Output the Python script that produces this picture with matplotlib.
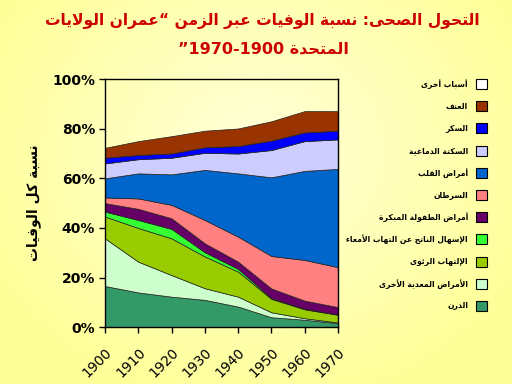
import re
import numpy as np
import matplotlib
matplotlib.use("Agg")
import matplotlib.pyplot as plt
from matplotlib.patches import Rectangle

# --- minimal Arabic shaping (presentation forms) + visual order ---
_BASE = [('ء', 0xFE80, 1), ('آ', 0xFE81, 2), ('أ', 0xFE83, 2), ('ؤ', 0xFE85, 2),
         ('إ', 0xFE87, 2), ('ئ', 0xFE89, 4), ('ا', 0xFE8D, 2), ('ب', 0xFE8F, 4),
         ('ة', 0xFE93, 2), ('ت', 0xFE95, 4), ('ث', 0xFE99, 4), ('ج', 0xFE9D, 4),
         ('ح', 0xFEA1, 4), ('خ', 0xFEA5, 4), ('د', 0xFEA9, 2), ('ذ', 0xFEAB, 2),
         ('ر', 0xFEAD, 2), ('ز', 0xFEAF, 2), ('س', 0xFEB1, 4), ('ش', 0xFEB5, 4),
         ('ص', 0xFEB9, 4), ('ض', 0xFEBD, 4), ('ط', 0xFEC1, 4), ('ظ', 0xFEC5, 4),
         ('ع', 0xFEC9, 4), ('غ', 0xFECD, 4), ('ف', 0xFED1, 4), ('ق', 0xFED5, 4),
         ('ك', 0xFED9, 4), ('ل', 0xFEDD, 4), ('م', 0xFEE1, 4), ('ن', 0xFEE5, 4),
         ('ه', 0xFEE9, 4), ('و', 0xFEED, 2), ('ى', 0xFEEF, 2), ('ي', 0xFEF1, 4)]
FORMS = {c: (start, n) for c, start, n in _BASE}
LAMALEF = {'آ': 0xFEF5, 'أ': 0xFEF7, 'إ': 0xFEF9, 'ا': 0xFEFB}


def ar(text):
    ch = list(text)
    out = []
    both = lambda c: c in FORMS and FORMS[c][1] == 4
    joinable = lambda c: c in FORMS and FORMS[c][1] >= 2
    i = 0
    while i < len(ch):
        c = ch[i]
        cprev = i > 0 and both(ch[i - 1]) and joinable(c)
        if c == 'ل' and i + 1 < len(ch) and ch[i + 1] in LAMALEF:
            out.append(chr(LAMALEF[ch[i + 1]] + (1 if cprev else 0)))
            i += 2
            continue
        if c not in FORMS:
            out.append(c)
            i += 1
            continue
        start, n = FORMS[c]
        cnext = both(c) and i + 1 < len(ch) and joinable(ch[i + 1])
        if n == 1:
            k = 0
        elif cprev and cnext:
            k = 3
        elif cprev:
            k = 1
        elif cnext:
            k = 2
        else:
            k = 0
        out.append(chr(start + k))
        i += 1
    vis = ''.join(out)[::-1]
    return re.sub(r'\d+', lambda m: m.group()[::-1], vis)


# --- data (share of all deaths, %) ---
years = [1900, 1910, 1920, 1930, 1940, 1950, 1960, 1970]
tb = [16.6, 14.0, 12.3, 11.0, 8.3, 4.0, 3.0, 1.6]
other_infect = [19.2, 12.4, 8.7, 4.7, 4.0, 2.0, 0.6, 0.3]
pneumonia = [8.8, 13.6, 14.8, 12.8, 10.1, 5.4, 3.6, 3.1]
diarrhea = [2.0, 3.2, 3.8, 1.7, 1.1, 0.3, 0.2, 0.1]
childhood = [3.4, 4.5, 4.3, 3.6, 2.9, 3.9, 3.3, 3.0]
cancer = [2.3, 4.2, 5.4, 9.4, 10.1, 13.1, 16.4, 16.1]
heart = [7.7, 10.1, 12.3, 20.2, 25.5, 31.7, 35.9, 39.6]
stroke = [6.0, 5.7, 6.7, 6.9, 8.0, 11.0, 12.0, 11.9]
diabetes = [2.3, 1.7, 1.7, 2.2, 3.0, 3.8, 3.5, 3.5]
violence = [4.0, 5.6, 7.0, 6.7, 7.1, 7.8, 8.6, 7.9]
other = [27.7, 25.0, 23.0, 20.8, 19.9, 17.0, 12.9, 12.9]

labels = ['الدرن', 'الأمراض المعدية الأخرى', 'الإلتهاب الرئوى',
          'الإسهال الناتج عن التهاب الأمعاء', 'أمراض الطفولة المبكرة',
          'السرطان', 'أمراض القلب', 'السكتة الدماغية', 'السكر', 'العنف',
          'أسباب أخرى']
colors = ['#339966', '#ccffcc', '#99cc00', '#33ff33', '#660066', '#ff8080',
          '#0066cc', '#ccccff', '#0000ff', '#993300', '#ffffff']
series = [tb, other_infect, pneumonia, diarrhea, childhood, cancer, heart,
          stroke, diabetes, violence, other]

fig = plt.figure(figsize=(5.12, 3.84), dpi=100)

# background: pale yellow, lighter towards the middle
bg = fig.add_axes([0, 0, 1, 1], zorder=-10)
yy, xx = np.mgrid[0:384, 0:512]
r = np.sqrt(((xx - 256) / 300.0) ** 2 + ((yy - 150) / 260.0) ** 2).clip(0, 1)
c0 = np.array([1.0, 1.0, 0.85])
c1 = np.array([1.0, 1.0, 0.60])
img = c0 + (c1 - c0) * r[..., None]
bg.imshow(img, aspect='auto')
bg.axis('off')

ax = fig.add_axes([0.205, 0.148, 0.455, 0.646])
ax.patch.set_alpha(0)
polys = ax.stackplot(years, *series, colors=colors, edgecolor='#222222',
                     linewidth=0.5)
polys[-1].set_facecolor('none')
polys[-1].set_edgecolor('none')

ax.set_xlim(1900, 1970)
ax.set_ylim(0, 100)
ax.set_xticks(years)
ax.set_xticklabels([str(y) for y in years], rotation=45, ha='right',
                   rotation_mode='anchor', fontsize=10)
ax.set_yticks([0, 20, 40, 60, 80, 100])
ax.set_yticklabels(['0%', '20%', '40%', '60%', '80%', '100%'],
                   fontsize=10, fontweight='bold')
ax.tick_params(direction='out', length=4, width=1, pad=3)
ax.tick_params(axis='x', pad=9)
for s in ax.spines.values():
    s.set_linewidth(1)
ax.set_ylabel(ar('نسبة كل الوفيات'), fontsize=10, fontweight='bold',
              labelpad=8)

fig.text(0.512, 0.945, ar('التحول الصحى: نسبة الوفيات عبر الزمن “عمران الولايات'),
         ha='center', va='center', fontsize=11.2, fontweight='bold',
         color='#cc0000')
fig.text(0.514, 0.873, ar('المتحدة 1900-1970”'), ha='center', va='center',
         fontsize=11.5, fontweight='bold', color='#cc0000')

# legend, top to bottom
y0 = 84
for k, (lab, col) in enumerate(zip(labels[::-1], colors[::-1])):
    yc = y0 + k * 22.2
    fig.patches.append(Rectangle((476 / 512, 1 - (yc + 5) / 384), 11 / 512,
                                 10 / 384, transform=fig.transFigure,
                                 facecolor=col, edgecolor='black', lw=0.8))
    fig.text(468 / 512, 1 - yc / 384, ar(lab), ha='right', va='center',
             fontsize=5.5, fontweight='bold')

fig.savefig('out.png', dpi=100)
